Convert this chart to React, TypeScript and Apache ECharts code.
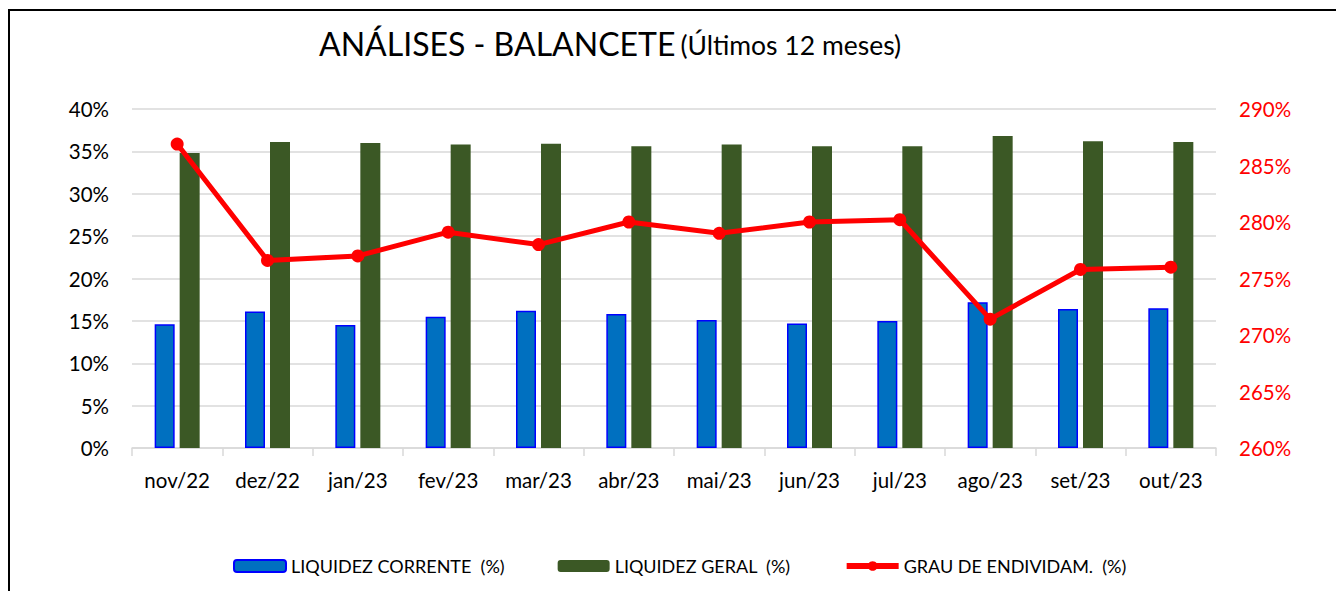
import React, { useEffect, useRef } from "react";
import * as echarts from "echarts";

const categories = ["nov/22", "dez/22", "jan/23", "fev/23", "mar/23", "abr/23", "mai/23", "jun/23", "jul/23", "ago/23", "set/23", "out/23"];
const liquidezCorrente = [14.6, 16.1, 14.5, 15.5, 16.2, 15.8, 15.1, 14.7, 15.0, 17.2, 16.4, 16.5];
const liquidezGeral = [34.8, 36.1, 36.0, 35.8, 35.9, 35.6, 35.8, 35.6, 35.6, 36.8, 36.2, 36.1];
const grauEndividamento = [286.9, 276.6, 277.0, 279.1, 278.0, 280.0, 279.0, 280.0, 280.2, 271.4, 275.8, 276.0];
const leftTicks = { min: 0, max: 40, interval: 5 };
const rightTicks = { min: 260, max: 290, interval: 5 };
const seriesNames = ["LIQUIDEZ CORRENTE  (%)", "LIQUIDEZ GERAL  (%)", "GRAU DE ENDIVIDAM.  (%)"];

const FONT = "Lato, 'Open Sans', sans-serif";

export default function App() {
  const ref = useRef<HTMLDivElement>(null);
  useEffect(() => {
    if (!ref.current) return;
    const chart = echarts.init(ref.current, undefined, { renderer: "svg" });
    chart.setOption({
      animation: false,
      backgroundColor: "#ffffff",
      title: {
        text: "{a|ANÁLISES - BALANCETE} {b|(Últimos 12 meses)}",
        left: 314,
        top: 14,
        textStyle: {
          fontWeight: "normal",
          rich: {
            a: { fontSize: 32, fontWeight: "normal", fontFamily: FONT, color: "#000", verticalAlign: "bottom", lineHeight: 40 },
            b: { fontSize: 26.5, fontWeight: "normal", fontFamily: FONT, color: "#000", verticalAlign: "bottom", lineHeight: 40, padding: [0, 0, 1, 0] },
          },
        },
      },
      graphic: [
        {
          type: "rect",
          shape: { x: 9, y: 10, width: 1400, height: 700 },
          style: { fill: "none", stroke: "#000", lineWidth: 2 },
          silent: true,
        },
      ],
      legend: {
        left: 233,
        top: 557,
        padding: 0,
        itemWidth: 52,
        itemHeight: 12,
        itemGap: 53,
        textStyle: { fontSize: 18, fontFamily: FONT, color: "#000" },
        data: [
          { name: seriesNames[0] },
          { name: seriesNames[1] },
          { name: seriesNames[2], lineStyle: { width: 6, color: "#FF0000" }, itemStyle: { color: "#FF0000" } },
        ],
      },
      grid: { left: 132, right: 120, top: 109, bottom: 143, containLabel: false },
      xAxis: {
        type: "category",
        data: categories,
        axisLine: { lineStyle: { color: "#D9D9D9", width: 1.5 } },
        axisTick: { show: true, length: 8, lineStyle: { color: "#D9D9D9", width: 1.5 } },
        axisLabel: { fontSize: 20.5, fontFamily: FONT, color: "#000", margin: 21 },
      },
      yAxis: [
        {
          type: "value",
          min: leftTicks.min,
          max: leftTicks.max,
          interval: leftTicks.interval,
          axisLine: { show: false },
          axisTick: { show: false },
          axisLabel: { formatter: "{value}%", fontSize: 20.5, fontFamily: FONT, color: "#000", margin: 23 },
          splitLine: { lineStyle: { color: "#D9D9D9", width: 1.5 } },
        },
        {
          type: "value",
          min: rightTicks.min,
          max: rightTicks.max,
          interval: rightTicks.interval,
          axisLine: { show: false },
          axisTick: { show: false },
          axisLabel: { formatter: "{value}%", fontSize: 20.5, fontFamily: FONT, color: "#FF0000", margin: 23 },
          splitLine: { show: false },
        },
      ],
      series: [
        {
          name: seriesNames[0],
          type: "bar",
          data: liquidezCorrente,
          barWidth: 20,
          barGap: "25%",
          itemStyle: { color: "#0070C0", borderColor: "#0000FF", borderWidth: 1.5 },
        },
        {
          name: seriesNames[1],
          type: "bar",
          data: liquidezGeral,
          barWidth: 20,
          barGap: "25%",
          itemStyle: { color: "#3B5825" },
        },
        {
          name: seriesNames[2],
          type: "line",
          yAxisIndex: 1,
          data: grauEndividamento,
          symbol: "circle",
          symbolSize: 13,
          lineStyle: { color: "#FF0000", width: 5 },
          itemStyle: { color: "#FF0000" },
        },
      ],
    });
    return () => chart.dispose();
  }, []);
  return <div ref={ref} style={{ position: "absolute", left: 0, top: 0, width: 1336, height: 591 }} />;
}
